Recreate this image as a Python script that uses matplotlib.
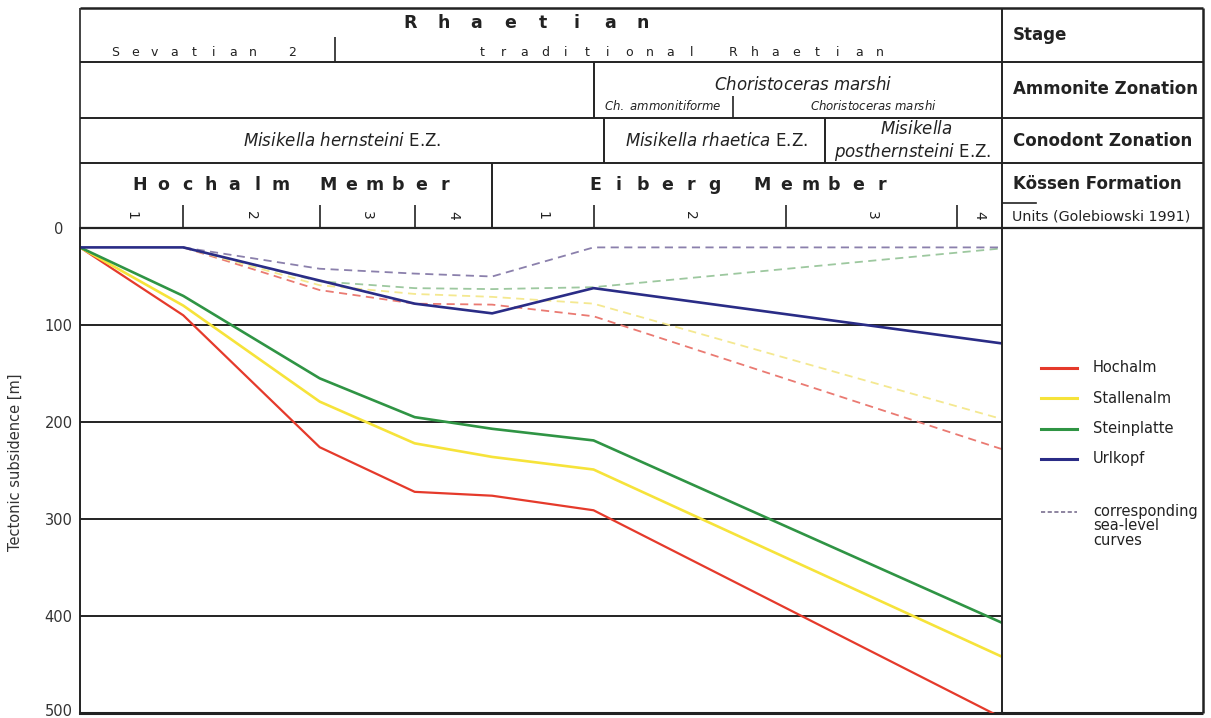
import matplotlib
matplotlib.use("Agg")
import matplotlib.pyplot as plt
from matplotlib.transforms import ScaledTranslation

# ---------------- data ----------------
# relative stratigraphic position (0-100 % of section) of the unit boundaries
unit_bounds = [0, 11.2, 26.0, 36.3, 44.7, 55.7, 76.6, 95.1, 100]
unit_labels = ["1", "2", "3", "4", "1", "2", "3", "4"]
yticks = [0, 100, 200, 300, 400, 500]

pos_main = [0, 11.2, 26.0, 36.3, 44.7, 55.7, 100]
hochalm = [20, 90, 226, 272, 276, 291, 505]
stallenalm = [20, 80, 179, 222, 236, 249, 442]
steinplatte = [20, 70, 155, 195, 207, 219, 407]

pos_urlkopf = [0, 11.2, 36.3, 44.7, 55.7, 100]
urlkopf = [20, 20, 78, 88, 62, 119]

pos_sea = [11.2, 26.0, 36.3, 44.7, 55.7, 100]
sea_urlkopf = [20, 42, 47, 50, 20, 20]
sea_steinplatte = [20, 55, 62, 63, 61, 21]
sea_stallenalm = [20, 59, 68, 71, 78, 197]
sea_hochalm = [20, 64, 78, 79, 91, 228]

series = ["Hochalm", "Stallenalm", "Steinplatte", "Urlkopf"]
colors = {"Hochalm": "#e53a2b", "Stallenalm": "#f6e33a",
          "Steinplatte": "#2f9444", "Urlkopf": "#2a2c86"}
sea_colors = {"Hochalm": "#ea7a72", "Stallenalm": "#f4e890",
              "Steinplatte": "#9dc89f", "Urlkopf": "#8b80ac"}

# ---------------- figure ----------------
W, H = 1211, 718
fig = plt.figure(figsize=(W / 100, H / 100), dpi=100)
fig.patch.set_facecolor("white")
INK = "#222222"


def fa(x0, y0, x1, y1):
    return [x0 / W, 1 - y1 / H, (x1 - x0) / W, (y1 - y0) / H]


PX0, PX1, PY0, PY1 = 80, 1002, 228, 713
ax = fig.add_axes(fa(PX0, PY0, PX1, PY1))
ax.set_xlim(0, 100)
ax.set_ylim(500, 0)
ax.set_xticks([])
ax.set_yticks(yticks)
ax.set_yticklabels([str(v) for v in yticks], fontsize=10.5, color="#333333")
ax.tick_params(axis="y", length=0, pad=15.5)
for lab in ax.get_yticklabels():
    lab.set_horizontalalignment("center")
last = ax.get_yticklabels()[-1]
last.set_transform(last.get_transform() +
                   ScaledTranslation(0, 3 / 100, fig.dpi_scale_trans))
for s in ["top", "right"]:
    ax.spines[s].set_visible(False)
ax.spines["left"].set_linewidth(1.2)
ax.spines["left"].set_color(INK)
ax.spines["bottom"].set_linewidth(2.2)
ax.spines["bottom"].set_color(INK)
for v in yticks[1:-1]:
    ax.axhline(v, color=INK, lw=1.4, zorder=1)
ax.set_ylabel("Tectonic subsidence [m]", fontsize=10.5, color="#333333")
ax.yaxis.set_label_coords((23 - PX0) / (PX1 - PX0), (PY1 - 462) / (PY1 - PY0))

sea = {"Hochalm": sea_hochalm, "Stallenalm": sea_stallenalm,
       "Steinplatte": sea_steinplatte, "Urlkopf": sea_urlkopf}
for name in ["Hochalm", "Stallenalm", "Steinplatte", "Urlkopf"]:
    ax.plot(pos_sea, sea[name], color=sea_colors[name], lw=1.3,
            dashes=(4.5, 3), zorder=2, clip_on=True)

ax.plot(pos_main, hochalm, color=colors["Hochalm"], lw=1.6, zorder=3)
ax.plot(pos_main, stallenalm, color=colors["Stallenalm"], lw=1.9, zorder=3)
ax.plot(pos_main, steinplatte, color=colors["Steinplatte"], lw=1.9, zorder=3)
ax.plot(pos_urlkopf, urlkopf, color=colors["Urlkopf"], lw=1.9, zorder=4)

# ---------------- overlay (header, frame, legend) ----------------
ov = fig.add_axes([0, 0, 1, 1])
ov.set_xlim(0, W)
ov.set_ylim(H, 0)
ov.axis("off")
ov.patch.set_alpha(0)


def px(p):
    return PX0 + (PX1 - PX0) * p / 100.0


def hline(y, x0=PX0, x1=1203, lw=1.4):
    ov.plot([x0, x1], [y, y], color=INK, lw=lw, solid_capstyle="butt")


def vline(x, y0, y1, lw=1.4):
    ov.plot([x, x], [y0, y1], color=INK, lw=lw, solid_capstyle="butt")


# outer frame
hline(8, lw=1.8)
hline(62)
hline(118)
hline(163)
hline(228, lw=1.6)
hline(713, x0=PX1, lw=2.2)
vline(PX0, 8, 713, lw=1.2)
vline(1203, 8, 713, lw=1.8)
vline(PX1, 8, 713, lw=1.4)
# inner dividers
vline(335, 37, 62, lw=1.2)
vline(594, 62, 118)
vline(733, 96, 118, lw=1.2)
vline(604, 118, 163)
vline(825, 118, 163)
vline(px(unit_bounds[4]), 163, 228)
for b in unit_bounds[1:-1]:
    if b != unit_bounds[4]:
        vline(px(b), 205, 228, lw=1.2)
ov.plot([1003, 1036], [203, 203], color=INK, lw=1.2)


def spaced(s, x0, x1, y, **kw):
    n = len(s)
    for i, ch in enumerate(s):
        if ch == " ":
            continue
        x = x0 + (x1 - x0) * i / (n - 1)
        ov.text(x, y, ch, ha="center", va="center", color=INK, **kw)


spaced("Rhaetian", 410, 643, 23, fontsize=12.5, fontweight="bold")
spaced("Sevatian 2", 115, 292, 53, fontsize=9, )
spaced("traditional Rhaetian", 482, 880, 53, fontsize=9)
spaced("Hochalm Member", 140, 445, 185, fontsize=12.5, fontweight="bold")
spaced("Eiberg Member", 595, 882, 185, fontsize=12.5, fontweight="bold")

for i, lab in enumerate(unit_labels):
    xc = px((unit_bounds[i] + unit_bounds[i + 1]) / 2)
    ov.text(xc, 215, lab, ha="center", va="center", rotation=-90,
            fontsize=10, color=INK)

ov.text(803, 85, r"$\it{Choristoceras\ marshi}$", ha="center", va="center",
        fontsize=12, color=INK)
ov.text(663, 106, r"$\it{Ch.\ ammonitiforme}$", ha="center", va="center",
        fontsize=8.5, color=INK)
ov.text(873, 106, r"$\it{Choristoceras\ marshi}$", ha="center", va="center",
        fontsize=8.5, color=INK)
ov.text(342, 141, r"$\it{Misikella\ hernsteini}$ E.Z.", ha="center",
        va="center", fontsize=12, color=INK)
ov.text(717, 141, r"$\it{Misikella\ rhaetica}$ E.Z.", ha="center",
        va="center", fontsize=12, color=INK)
ov.text(916, 129, r"$\it{Misikella}$", ha="center", va="center",
        fontsize=12, color=INK)
ov.text(913, 152, r"$\it{posthernsteini}$ E.Z.", ha="center", va="center",
        fontsize=12, color=INK)

for txt, y in [("Stage", 35), ("Ammonite Zonation", 89),
               ("Conodont Zonation", 141), ("Kössen Formation", 184)]:
    ov.text(1013, y, txt, ha="left", va="center", fontsize=12,
            fontweight="bold", color=INK)
ov.text(1012, 216, "Units (Golebiowski 1991)", ha="left", va="center",
        fontsize=10.3, color=INK)

# legend
for i, name in enumerate(series):
    y = 368 + 30.3 * i
    ov.plot([1041, 1077], [y, y], color=colors[name], lw=2.2)
    ov.text(1093, y, name, ha="left", va="center", fontsize=10.5,
            color=INK)
ov.plot([1041, 1077], [512, 512], color="#7a7090", lw=1.2, dashes=(2.5, 1.5))
ov.text(1093, 504, "corresponding\nsea-level\ncurves", ha="left", va="top",
        fontsize=10.5, color=INK, linespacing=0.95)

fig.savefig("out.png", dpi=100)
